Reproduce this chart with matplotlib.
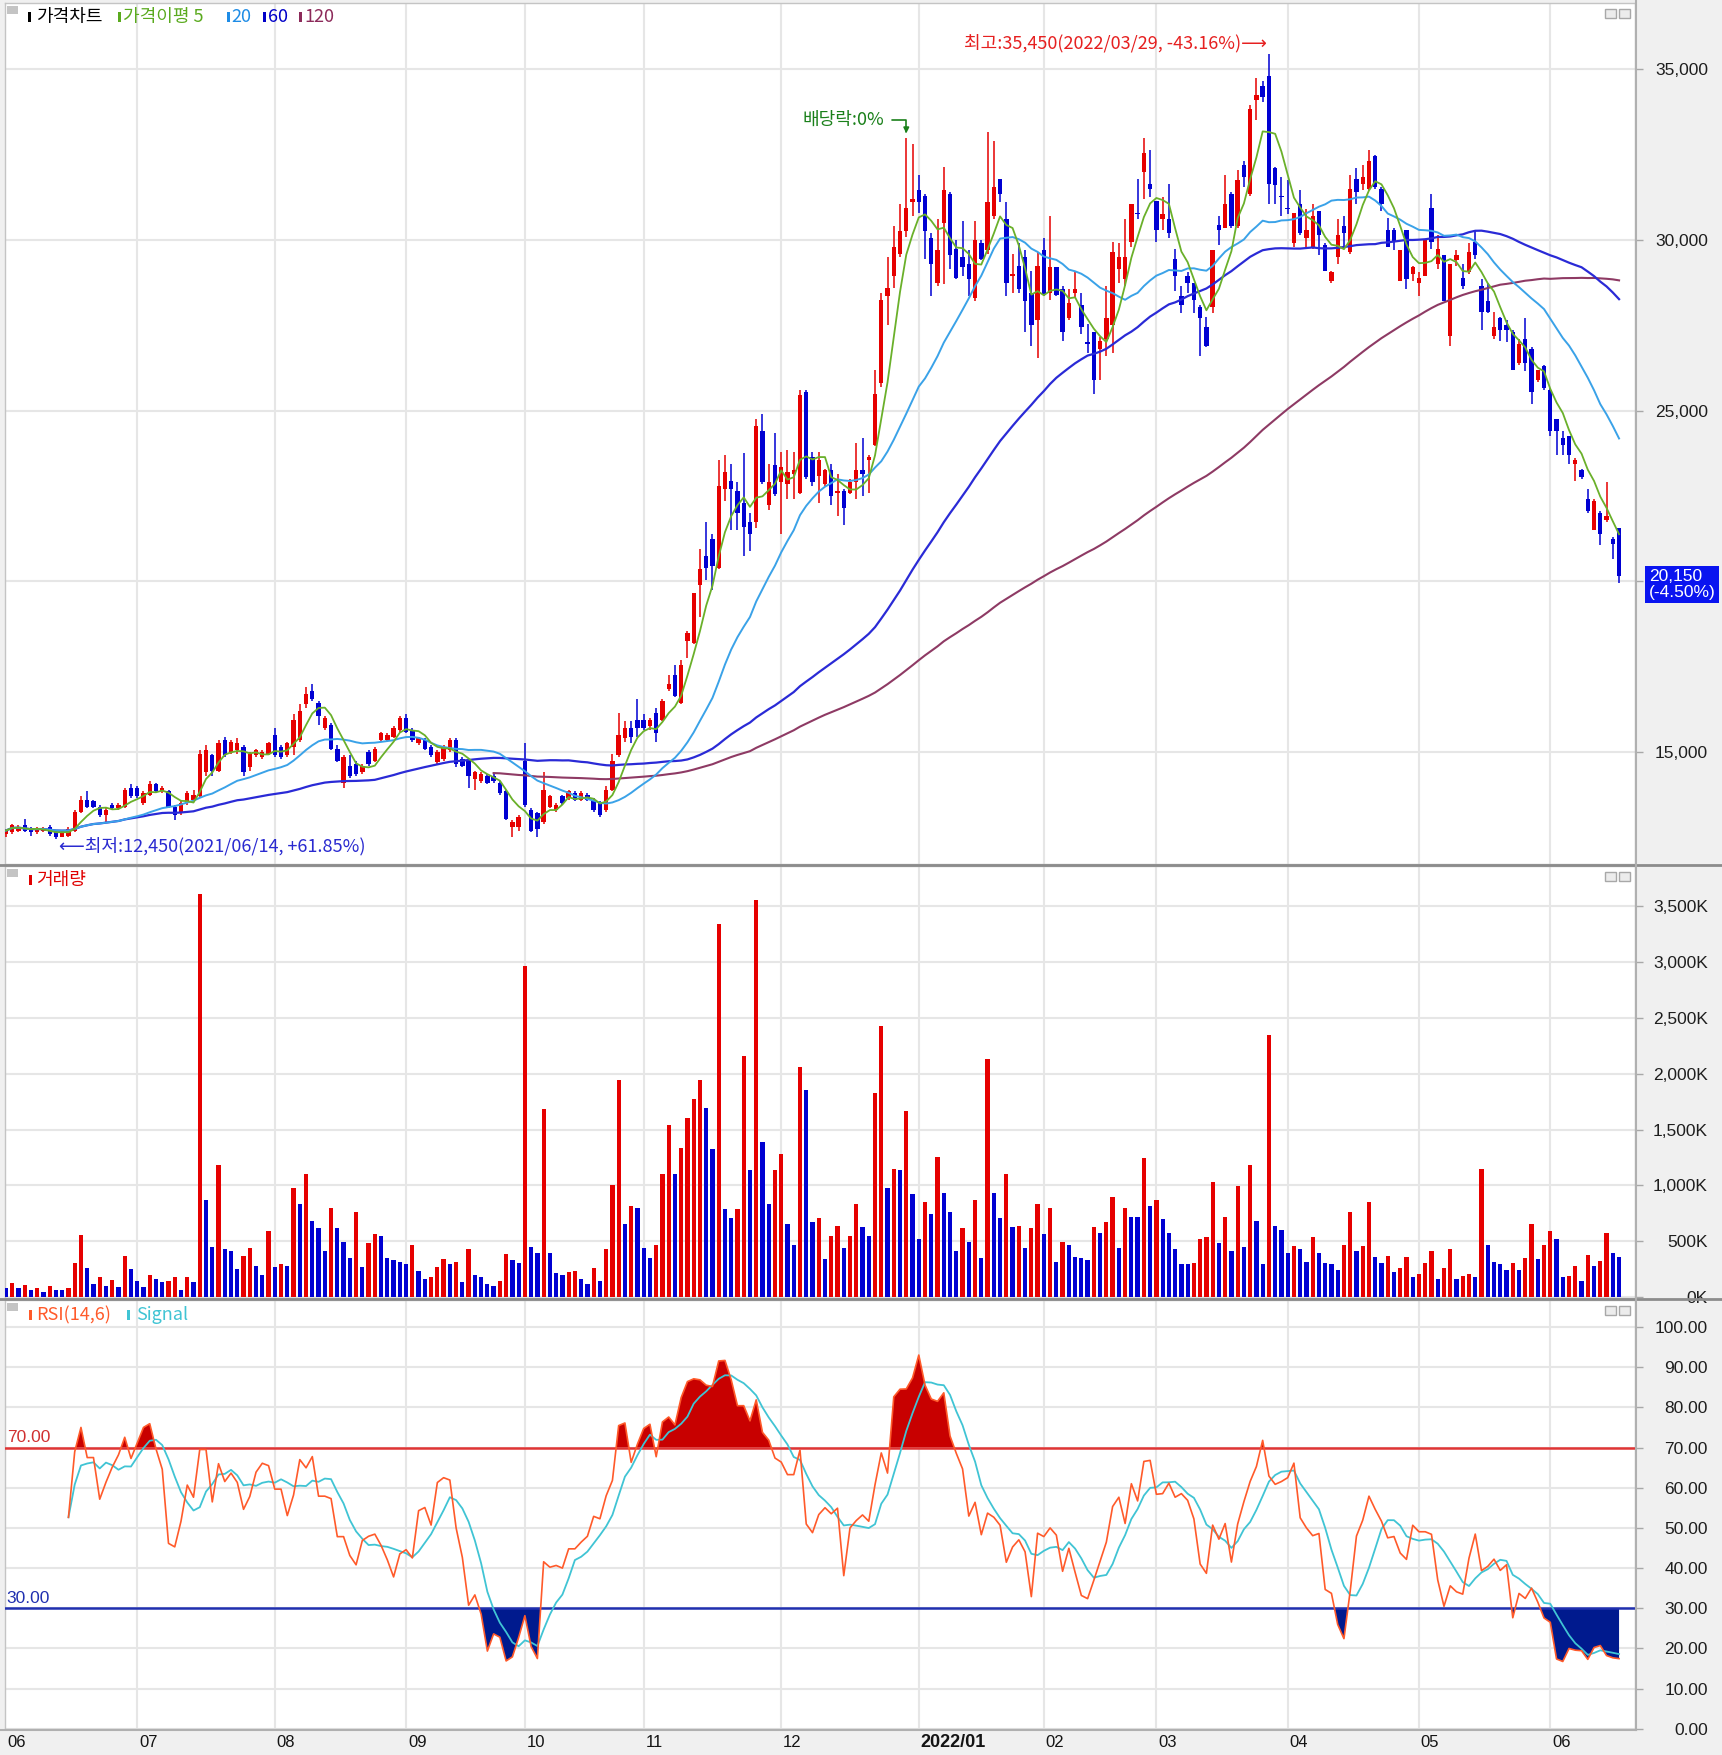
import numpy as np
import pandas as pd
import matplotlib
matplotlib.use('Agg')
import matplotlib.pyplot as plt
import matplotlib.transforms as mtransforms
from matplotlib.patches import Rectangle
from matplotlib.lines import Line2D

plt.rcParams['font.family'] = ['Noto Sans CJK KR', 'DejaVu Sans']
NUM = ['Liberation Sans', 'DejaVu Sans']

# ---- data (daily candles, 2021/06/02 .. 2022/06/20) ----
month_labels = ['06', '07', '08', '09', '10', '11', '12', '2022/01', '02', '03', '04', '05', '06']
days_in_month = [21, 22, 21, 19, 19, 22, 22, 20, 18, 21, 21, 21, 12]

opens = [
    12600, 12650, 12700, 12850, 12750, 12650, 12700, 12800, 12650, 12500,
    12550, 12700, 13250, 13600, 13550, 13400, 13150, 13450, 13350, 13400, 13950,
    13950, 13500, 13750, 14050, 13850, 13850, 13400, 13200, 13500, 13600,
    13700, 14400, 14900, 14450, 15350, 15000, 15050, 15150, 14550, 14900, 14850, 14950,
    15500, 15150, 14900, 15150, 15350, 16400, 16800, 16450, 15700, 15800,
    15100, 14100, 14600, 14650, 14400, 15000, 14750, 15350, 15350, 15450, 15650,
    16000, 15650, 15250, 15350, 15150, 14700, 14800, 15050, 15350, 14800,
    14750, 14200, 14150, 14300, 14300, 14100, 13850, 12800, 12800,
    14750, 13300, 13200, 12950, 13400, 13300, 13700, 13650, 13800, 13600,
    13750, 13600, 13500, 13300, 13900, 14900, 15400, 15700, 15950,
    15950, 15750, 16150, 15950, 16850, 17250, 16450, 18250, 18200, 19900,
    20750, 21250, 20400, 22700, 22950, 22650, 22300, 21750, 21750, 24400, 22250, 23400,
    22900, 22850, 23150, 22600, 25550, 23650, 23100, 22850, 23250, 22600,
    22650, 22600, 22900, 23250, 23550, 24000, 25800, 28350, 28950, 29600, 30250, 31100,
    31450, 31300, 30050, 28750, 30500, 31350, 29750, 29500, 29300, 28300,
    29900, 29700, 30700, 31800, 30600, 28950, 29250, 29500, 28450, 27650,
    29700, 28450, 29200, 28550, 27700, 28450, 28100, 27000, 27300, 26800,
    27100, 27500, 29150, 28850, 29950, 30800, 32000, 31650,
    31150, 30600, 30600, 29450, 28350, 28950, 28750, 28050, 27450, 28050,
    30450, 30350, 31350, 30400, 32200, 31350, 34100, 34500, 34800, 32100, 31300,
    30950, 29900, 31050, 30050, 29800, 30850, 29850, 28800, 29500, 30400,
    29650, 31800, 31650, 31500, 32450, 31500, 30300, 30300, 28800, 30300, 29000,
    28750, 28950, 30950, 29300, 29550, 27200, 29400, 28900, 29050, 29950,
    28650, 28200, 27200, 27700, 27500, 27300, 26400, 27100, 26800, 25900, 26300,
    25600, 24750, 24200, 24250, 23450, 23250, 22400, 21500, 22000, 21800, 21250, 21550,
]
highs = [
    12750, 12900, 12850, 13050, 12800, 12800, 12800, 12850, 12700, 12700,
    12800, 13300, 13700, 13850, 13600, 13450, 13350, 13500, 13500, 13950, 14050,
    14000, 13850, 14150, 14100, 14000, 13900, 13450, 13550, 13850, 13900,
    15050, 15200, 14950, 15350, 15450, 15350, 15400, 15200, 15000, 15100, 15050, 15300,
    15700, 15200, 15300, 16100, 16400, 16900, 17000, 16500, 16050, 15850,
    15200, 14900, 14900, 14750, 14650, 15050, 15150, 15600, 15550, 15750, 16050,
    16100, 15700, 15450, 15400, 15200, 15050, 15200, 15400, 15400, 14850,
    14800, 14450, 14400, 14350, 14350, 14150, 13900, 13000, 13150,
    15250, 13350, 13250, 14400, 13750, 13500, 13750, 13900, 13850, 13850,
    13800, 13650, 13550, 14000, 14950, 16150, 15900, 15900, 16550,
    16100, 16000, 16300, 16550, 17250, 17550, 17700, 18550, 19650, 20950,
    21750, 21400, 23550, 23700, 23450, 22900, 23750, 22000, 24750, 24900, 23450, 24350,
    23800, 23850, 23800, 25600, 25600, 23800, 23800, 23300, 23450, 23150,
    22700, 23000, 24050, 24200, 23700, 26200, 28450, 29500, 30400, 31050, 33000, 32800,
    31900, 31350, 30200, 30600, 32150, 31400, 30000, 30550, 29700, 30550,
    30000, 33150, 32900, 31800, 31100, 29600, 29900, 29700, 29100, 29650,
    30050, 30700, 29200, 28650, 28550, 29050, 28450, 27550, 27300, 27150,
    28650, 29950, 29900, 30600, 31050, 31800, 33000, 32650,
    31150, 31250, 31650, 29750, 28650, 29050, 28750, 28100, 27750, 29700,
    30700, 31900, 31400, 32050, 32300, 33950, 34750, 34650, 35450, 32150, 31850,
    31750, 30800, 31450, 30900, 31050, 30850, 29900, 29100, 30600, 30700,
    31900, 32100, 32200, 32650, 32500, 31550, 30650, 30350, 29700, 30300, 29250,
    29050, 30000, 31350, 30150, 29550, 29300, 29700, 29300, 29900, 30250,
    28850, 28750, 27900, 27750, 27650, 27350, 27100, 27700, 26850, 26200, 26350,
    25650, 24750, 24400, 24250, 23600, 23300, 22700, 22400, 22050, 22900, 21300, 21550,
]
lows = [
    12500, 12600, 12650, 12650, 12550, 12600, 12650, 12550, 12450, 12500,
    12500, 12650, 13200, 13350, 13350, 13100, 12950, 13300, 13300, 13350, 13650,
    13650, 13450, 13700, 13800, 13800, 13350, 13000, 13150, 13450, 13550,
    13650, 14300, 14300, 14400, 14850, 14950, 14950, 14300, 14450, 14850, 14800, 14900,
    14850, 14800, 14850, 14900, 15300, 16300, 16500, 15800, 15650, 15050,
    14700, 13950, 14250, 14300, 14350, 14600, 14700, 15300, 15300, 15400, 15600,
    15550, 15300, 15200, 15050, 14850, 14650, 14750, 15000, 14550, 14550,
    13950, 13900, 14100, 14050, 14100, 13750, 13000, 12500, 12700,
    13400, 12650, 12500, 12900, 13350, 13250, 13450, 13600, 13550, 13550,
    13550, 13250, 13100, 13250, 13850, 14850, 15300, 15250, 15450,
    15650, 15650, 15300, 15900, 16800, 16600, 16400, 17750, 18150, 18950,
    20050, 19750, 20350, 22350, 21500, 21500, 20750, 20900, 21550, 22850, 22100, 22500,
    21400, 22400, 22400, 22550, 23000, 22800, 22300, 22800, 22250, 21900,
    21650, 22550, 22400, 22500, 22600, 23950, 25700, 27500, 28600, 29500, 30100, 30700,
    30800, 29450, 28350, 28650, 28700, 29150, 28850, 28950, 28350, 28200,
    29400, 29600, 30600, 31100, 28350, 28450, 28450, 27300, 26900, 26550,
    28350, 28250, 28350, 27050, 27650, 28300, 27250, 26700, 25500, 25900,
    26600, 26700, 28750, 28650, 29800, 30600, 31200, 31250,
    29950, 30300, 30050, 28500, 27850, 28450, 27850, 26600, 26850, 27850,
    29850, 30350, 30350, 30350, 31550, 31300, 33500, 34050, 31050, 31050, 30700,
    30750, 29800, 30150, 29800, 29750, 29550, 29100, 28750, 29300, 29800,
    29600, 31050, 31450, 31450, 31500, 30850, 29800, 29700, 28800, 28550, 28800,
    28350, 28950, 29750, 29150, 28200, 26900, 29250, 28550, 29000, 29450,
    27350, 27850, 27100, 27050, 27000, 26200, 26350, 26150, 25200, 25850, 25600,
    24250, 23700, 23700, 23450, 22950, 23000, 22000, 21500, 21050, 21750, 20650, 19950,
]
closes = [
    12700, 12850, 12800, 12700, 12650, 12750, 12750, 12600, 12500, 12650,
    12750, 13250, 13600, 13400, 13400, 13150, 13300, 13350, 13450, 13900, 13700,
    13700, 13800, 14050, 13850, 13950, 13400, 13150, 13500, 13800, 13750,
    14950, 15050, 14450, 15250, 14900, 15300, 15250, 14400, 14950, 15050, 15000, 15250,
    14900, 14850, 15250, 15950, 16200, 16700, 16550, 16050, 16000, 15100,
    14750, 14850, 14300, 14350, 14600, 14650, 15100, 15550, 15500, 15700, 16000,
    15600, 15350, 15400, 15100, 14900, 15000, 15150, 15350, 14650, 14600,
    14300, 14400, 14350, 14100, 14150, 13800, 13050, 12950, 13100,
    13450, 12700, 12750, 13900, 13700, 13450, 13500, 13850, 13600, 13800,
    13600, 13300, 13150, 13900, 14750, 15500, 15700, 15450, 15700,
    15700, 15950, 15550, 16500, 17000, 16650, 17550, 18500, 19650, 20350,
    20400, 20450, 22800, 23200, 22700, 22000, 21600, 21400, 24550, 22900, 22900, 22550,
    23350, 23200, 23250, 25450, 23050, 22900, 23550, 23250, 22500, 22650,
    22150, 22900, 23250, 23150, 23650, 25500, 28250, 28600, 29800, 30250, 30950, 31200,
    31100, 30250, 29300, 29700, 31450, 29550, 28900, 29200, 28850, 30000,
    29450, 31100, 31550, 31350, 28750, 29000, 28550, 28200, 27500, 29250,
    28400, 29200, 28400, 27300, 28150, 28550, 27450, 26950, 25900, 27050,
    27700, 29650, 29500, 29500, 31050, 30750, 32550, 31500,
    30300, 30750, 30200, 28950, 28100, 28750, 28250, 27700, 26900, 29700,
    30300, 31050, 30400, 31750, 31850, 33850, 34250, 34200, 31650, 31600, 31250,
    30900, 30800, 30200, 30300, 30700, 30150, 29100, 29050, 30150, 30200,
    31500, 31400, 31850, 32300, 31550, 31050, 29800, 29950, 29700, 28850, 29200,
    28900, 30000, 29950, 29750, 28200, 29300, 29550, 28650, 29650, 29550,
    27900, 27900, 27450, 27350, 27350, 26200, 26950, 26400, 25550, 26200, 25650,
    24400, 24400, 24000, 23700, 23550, 23050, 22050, 22350, 21400, 21900, 21100, 20150,
]
volumes_k = [
    81, 125, 81, 110, 66, 81, 51, 101, 66, 66, 81, 304, 558, 265, 119, 185, 104, 155, 95, 373, 253,
    146, 95, 200, 161, 134, 149, 185, 66, 185, 134, 3608, 871, 453, 1181, 429, 417, 256, 373, 444, 280, 200, 590,
    268, 295, 280, 981, 832, 1100, 683, 617, 417, 802, 617, 498, 349, 766, 268, 483, 564, 549, 349, 334, 319,
    295, 468, 239, 161, 185, 268, 340, 295, 319, 134, 429, 200, 185, 119, 104, 146, 388, 334, 304,
    2964, 453, 400, 1688, 400, 215, 200, 224, 239, 161, 119, 265, 146, 429, 1005, 1944, 656, 817, 800,
    444, 349, 468, 1100, 1542, 1100, 1339, 1607, 1771, 1944, 1691, 1327, 3340, 787, 707, 787, 2162, 1139, 3555, 1393, 832, 1139,
    1285, 656, 468, 2064, 1852, 671, 713, 340, 552, 641, 444, 552, 832, 632, 552, 1825, 2430, 981, 1151, 1139, 1664, 927,
    525, 856, 742, 1258, 936, 766, 417, 617, 498, 871, 349, 2132, 936, 713, 1100, 632, 640, 444, 617, 832,
    564, 802, 319, 498, 468, 358, 349, 334, 632, 578, 671, 901, 444, 802, 722, 722, 1249, 817,
    871, 698, 578, 429, 295, 295, 304, 525, 537, 1035, 483, 722, 417, 996, 453, 1181, 683, 295, 2350, 641, 602,
    400, 459, 429, 319, 537, 400, 304, 295, 245, 468, 766, 417, 459, 856, 364, 304, 373, 230, 259, 364, 179,
    206, 304, 417, 161, 259, 429, 161, 191, 206, 179, 1145, 468, 319, 295, 245, 310, 245, 349, 656, 340, 468,
    593, 522, 179, 191, 283, 149, 379, 283, 325, 579, 400, 364,
]
exdiv_idx = 144          # 배당락 (ex-dividend day)
hi_date = '2022/03/29'
lo_date = '2021/06/14'

# ---- derived series ----
o, h, l, c = (np.array(a, float) for a in (opens, highs, lows, closes))
v = np.array(volumes_k, float)
n = len(c)
x = np.arange(n)
month_start = np.concatenate([[0], np.cumsum(days_in_month)[:-1]])

cs = pd.Series(c)
ma5 = cs.rolling(5, min_periods=1).mean()
ma20 = cs.rolling(20, min_periods=1).mean()
ma60 = cs.rolling(60, min_periods=1).mean()
ma120 = cs.rolling(120, min_periods=79).mean()

# RSI with simple 14-day averages of gains / losses, signal = 6-day mean
delta = cs.diff()
gain = delta.clip(lower=0).rolling(14, min_periods=10).mean()
loss = (-delta).clip(lower=0).rolling(14, min_periods=10).mean()
rsi = (100 * gain / (gain + loss)).to_numpy()
signal = pd.Series(rsi).rolling(6, min_periods=1).mean().to_numpy()

# ---- layout ----
W, H = 1722, 1755


def rect(x0, y0, x1, y1):
    return [x0 / W, 1 - y1 / H, (x1 - x0) / W, (y1 - y0) / H]


fig = plt.figure(figsize=(W / 100, H / 100), dpi=100, facecolor='#f0f0f0')
ax_p = fig.add_axes(rect(5, 3, 1635, 864))
ax_v = fig.add_axes(rect(5, 866, 1635, 1298), sharex=ax_p)
ax_r = fig.add_axes(rect(5, 1300, 1635, 1729), sharex=ax_p)

RED, BLUE = '#e60000', '#0000d2'

for ax in (ax_p, ax_v, ax_r):
    ax.set_facecolor('white')
    ax.grid(True, color='#e6e6e6', lw=1.5)
    ax.set_axisbelow(True)
    for sp in ax.spines.values():
        sp.set_color('#c4c4c4')
        sp.set_linewidth(1)
    ax.yaxis.tick_right()
    ax.tick_params(axis='y', length=6, width=1, color='#a8a8a8', pad=46.5,
                   labelcolor='#1e1e1e')
    ax.tick_params(axis='x', length=0, labelbottom=False)
ax_p.set_xlim(-0.15, 260.55)
ax_p.set_xticks(month_start[1:])

last = c[-1]

# price panel
col = np.where(c >= o, RED, BLUE)
ax_p.vlines(x, l, h, colors=col, lw=1.1, zorder=3)
body = np.maximum(np.abs(c - o), 40)
ax_p.bar(x, body, bottom=np.minimum(o, c), width=0.7, color=col, lw=0, zorder=4)
ax_p.plot(x, ma120, color='#8e3a64', lw=1.5, zorder=5)
ax_p.plot(x, ma60, color='#2a2ad6', lw=1.6, zorder=5)
ax_p.plot(x, ma20, color='#3aa2e8', lw=1.4, zorder=5)
ax_p.plot(x, ma5, color='#6ab02a', lw=1.3, zorder=6)
ax_p.set_ylim(11719, 36942)
pt = np.arange(15000, 35001, 5000)
ax_p.set_yticks(pt)
# the current-price box covers the label nearest to the last close
ax_p.set_yticklabels(['' if abs(t - last) < 1000 else f'{t:,}' for t in pt],
                     ha='right', fontfamily=NUM, fontsize=12.5)

# volume panel
prev = np.concatenate([[np.inf], v[:-1]])
vcol = np.where(v > prev, RED, BLUE)
ax_v.bar(x, v, width=0.68, color=vcol, lw=0, zorder=3)
ax_v.set_ylim(-6, 3857)
vt = np.arange(0, 3501, 500)
ax_v.set_yticks(vt)
ax_v.set_yticklabels([f'{t:,}K' for t in vt], ha='right', fontfamily=NUM, fontsize=12.5)

# RSI panel
ax_r.fill_between(x, rsi, 70, where=rsi >= 70, interpolate=True, color='#c80000', lw=0, zorder=2)
ax_r.fill_between(x, rsi, 30, where=rsi <= 30, interpolate=True, color='#001a8e', lw=0, zorder=2)
ax_r.axhline(70, color='#e03434', lw=1.8, zorder=3)
ax_r.axhline(30, color='#2030b0', lw=1.8, zorder=3)
ax_r.plot(x, signal, color='#40c4d4', lw=1.3, zorder=4)
ax_r.plot(x, rsi, color='#ff5a2a', lw=1.2, zorder=5)
ax_r.set_ylim(-0.03, 106.7)
rt = np.arange(0, 101, 10)
ax_r.set_yticks(rt)
ax_r.set_yticklabels([f'{t:.2f}' for t in rt], ha='right', fontfamily=NUM, fontsize=12.5)
lvl = mtransforms.blended_transform_factory(ax_r.transAxes, ax_r.transData)
ax_r.text(0.001, 70.6, '70.00', transform=lvl, va='bottom', color='#d03030', fontsize=12.5, family=NUM)
ax_r.text(0.001, 30.6, '30.00', transform=lvl, va='bottom', color='#2030b0', fontsize=12.5, family=NUM)

# month labels under the RSI panel
mt = mtransforms.blended_transform_factory(ax_r.transData, ax_r.transAxes)
for ms, lab in zip(month_start, month_labels):
    bold = '/' in lab
    ax_r.text(ms + 0.3, -0.031, lab, transform=mt, ha='left', va='center', clip_on=False,
              fontsize=13 if bold else 12, fontweight='bold' if bold else 'normal',
              family=NUM, color='#141414')

# annotations
imax = int(np.argmax(h))
imin = int(np.argmin(l))
ax_p.annotate(f'최고:{h[imax]:,.0f}({hi_date}, {(last / h[imax] - 1) * 100:+.2f}%)⟶',
              xy=(imax, h[imax]), xytext=(-1.5, 8), textcoords='offset points',
              ha='right', va='center', color='#e62020', fontsize=13)
ax_p.annotate(f'⟵최저:{l[imin]:,.0f}({lo_date}, {(last / l[imin] - 1) * 100:+.2f}%)',
              xy=(imin, l[imin]), xytext=(2, -5), textcoords='offset points',
              ha='left', va='center', color='#2a2ad0', fontsize=13)
ax_p.annotate('배당락:0%', xy=(exdiv_idx, h[exdiv_idx]), xytext=(-15.5, 12.7),
              textcoords='offset points', ha='right', va='center', color='#1a801a', fontsize=13,
              arrowprops=dict(arrowstyle='-|>', color='#1a801a', lw=1.2, mutation_scale=8,
                              connectionstyle='angle,angleA=0,angleB=90,rad=0',
                              shrinkA=3, shrinkB=3))
pct = (last / c[-2] - 1) * 100
ax_p.annotate(f'{last:,.0f}\n({pct:.2f}%)', xy=(1, last), xycoords=('axes fraction', 'data'),
              xytext=(10, -6), textcoords='offset points', ha='left', va='center',
              color='white', fontsize=12.5, family=NUM, linespacing=1.05,
              bbox=dict(boxstyle='square,pad=0.2', fc='#0a14f0', ec='none'),
              annotation_clip=False)

# panel separators and frame lines
for yy in (865, 1299):
    fig.add_artist(Line2D([0, 1], [1 - yy / H] * 2, transform=fig.transFigure, color='#8c8c8c', lw=2))
fig.add_artist(Line2D([1635.5 / W] * 2, [1 - 1729.5 / H, 1], transform=fig.transFigure, color='#b0b0b0', lw=1.5))
fig.add_artist(Line2D([0, 1635.5 / W], [1 - 1729.5 / H] * 2, transform=fig.transFigure, color='#b0b0b0', lw=1.5))


def box(x0, y0, w, hh, **kw):
    fig.add_artist(Rectangle((x0 / W, 1 - (y0 + hh) / H), w / W, hh / H, transform=fig.transFigure, **kw))


def legend_item(xb, y, color, label, xt, **kw):
    box(xb, y - 5, 3, 10, color=color, lw=0)
    fig.text(xt / W, 1 - y / H, label, color=color, fontsize=13, va='center', ha='left', **kw)


for top in (3, 866, 1300):
    box(7, top + 3, 11, 8, color='#c4c4c4', lw=0)
    box(1605, top + 6, 11, 9, fc='#ececec', ec='#a8a8a8', lw=1)
    box(1619, top + 6, 11, 9, fc='#ececec', ec='#a8a8a8', lw=1)

legend_item(27.5, 17, '#000000', '가격차트', 36)
legend_item(118, 17, '#5aaa1e', '가격이평 5', 123)
legend_item(226.5, 17, '#1e8ce6', '20', 231.5)
legend_item(263, 17, '#0000c8', '60', 268)
legend_item(298.5, 17, '#8c2a5a', '120', 304)
legend_item(29, 880, '#e00000', '거래량', 36)
legend_item(29, 1315, '#ff5a2a', 'RSI(14,6)', 36)
legend_item(127, 1315, '#40c4d4', 'Signal', 136)

fig.savefig('out.png', dpi=100, facecolor=fig.get_facecolor())
